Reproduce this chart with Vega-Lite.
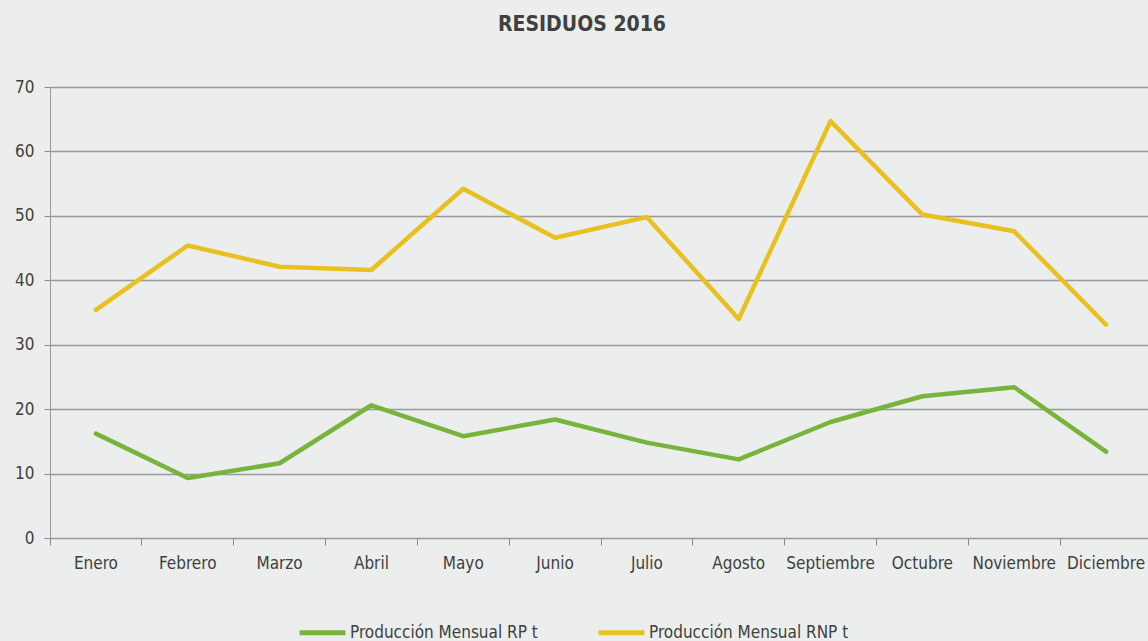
{
  "$schema": "https://vega.github.io/schema/vega-lite/v6.json",
  "autosize": {"type": "none"},
  "padding": {"left": 50, "top": 87, "right": 0, "bottom": 103},
  "width": 1102,
  "height": 451,
  "background": "#ebeeed",
  "title": {
    "text": "RESIDUOS 2016",
    "font": "DejaVu Sans Condensed",
    "fontSize": 21,
    "fontWeight": "bold",
    "color": "#404040",
    "anchor": "middle",
    "dx": -19,
    "offset": 43
  },
  "config": {
    "view": {"stroke": null},
    "font": "DejaVu Sans Condensed"
  },
  "data": {
    "values": [
      {"mes": "Enero", "serie": "Producción Mensual RP t", "valor": 16.2},
      {"mes": "Febrero", "serie": "Producción Mensual RP t", "valor": 9.3},
      {"mes": "Marzo", "serie": "Producción Mensual RP t", "valor": 11.6},
      {"mes": "Abril", "serie": "Producción Mensual RP t", "valor": 20.6},
      {"mes": "Mayo", "serie": "Producción Mensual RP t", "valor": 15.8},
      {"mes": "Junio", "serie": "Producción Mensual RP t", "valor": 18.4},
      {"mes": "Julio", "serie": "Producción Mensual RP t", "valor": 14.8},
      {"mes": "Agosto", "serie": "Producción Mensual RP t", "valor": 12.2},
      {"mes": "Septiembre", "serie": "Producción Mensual RP t", "valor": 18.0},
      {"mes": "Octubre", "serie": "Producción Mensual RP t", "valor": 22.0},
      {"mes": "Noviembre", "serie": "Producción Mensual RP t", "valor": 23.4},
      {"mes": "Diciembre", "serie": "Producción Mensual RP t", "valor": 13.4},
      {"mes": "Enero", "serie": "Producción Mensual RNP  t", "valor": 35.4},
      {"mes": "Febrero", "serie": "Producción Mensual RNP  t", "valor": 45.4},
      {"mes": "Marzo", "serie": "Producción Mensual RNP  t", "valor": 42.1},
      {"mes": "Abril", "serie": "Producción Mensual RNP  t", "valor": 41.6},
      {"mes": "Mayo", "serie": "Producción Mensual RNP  t", "valor": 54.2},
      {"mes": "Junio", "serie": "Producción Mensual RNP  t", "valor": 46.6},
      {"mes": "Julio", "serie": "Producción Mensual RNP  t", "valor": 49.8},
      {"mes": "Agosto", "serie": "Producción Mensual RNP  t", "valor": 34.0},
      {"mes": "Septiembre", "serie": "Producción Mensual RNP  t", "valor": 64.7},
      {"mes": "Octubre", "serie": "Producción Mensual RNP  t", "valor": 50.2},
      {"mes": "Noviembre", "serie": "Producción Mensual RNP  t", "valor": 47.6},
      {"mes": "Diciembre", "serie": "Producción Mensual RNP  t", "valor": 33.1}
    ]
  },
  "mark": {"type": "line", "strokeWidth": 4.5, "strokeJoin": "round", "strokeCap": "round"},
  "encoding": {
    "x": {
      "field": "mes",
      "type": "nominal",
      "sort": null,
      "bandPosition": 0.5,
      "scale": {"type": "band", "paddingInner": 0, "paddingOuter": 0},
      "axis": {
        "title": null,
        "labelAngle": 0,
        "labelFontSize": 17,
        "labelColor": "#404040",
        "labelPadding": 10,
        "bandPosition": 0,
        "tickSize": 7,
        "tickColor": "#888888",
        "domainColor": "#999999",
        "grid": false
      }
    },
    "y": {
      "field": "valor",
      "type": "quantitative",
      "scale": {"domain": [0, 70]},
      "axis": {
        "title": null,
        "values": [0, 10, 20, 30, 40, 50, 60, 70],
        "labelFontSize": 17,
        "labelColor": "#404040",
        "labelPadding": 10,
        "tickSize": 6,
        "tickColor": "#888888",
        "domainColor": "#999999",
        "gridColor": "#999999",
        "gridWidth": 1.3
      }
    },
    "color": {
      "field": "serie",
      "type": "nominal",
      "scale": {
        "domain": ["Producción Mensual RP t", "Producción Mensual RNP  t"],
        "range": ["#78b43c", "#e8c020"]
      },
      "legend": {
        "title": null,
        "orient": "none",
        "direction": "horizontal",
        "legendX": 247,
        "legendY": 520,
        "symbolType": "stroke",
        "symbolStrokeWidth": 5,
        "symbolSize": 2100,
        "labelFontSize": 17,
        "labelColor": "#404040",
        "labelOffset": 2,
        "labelLimit": 0,
        "columnPadding": 50
      }
    }
  }
}
